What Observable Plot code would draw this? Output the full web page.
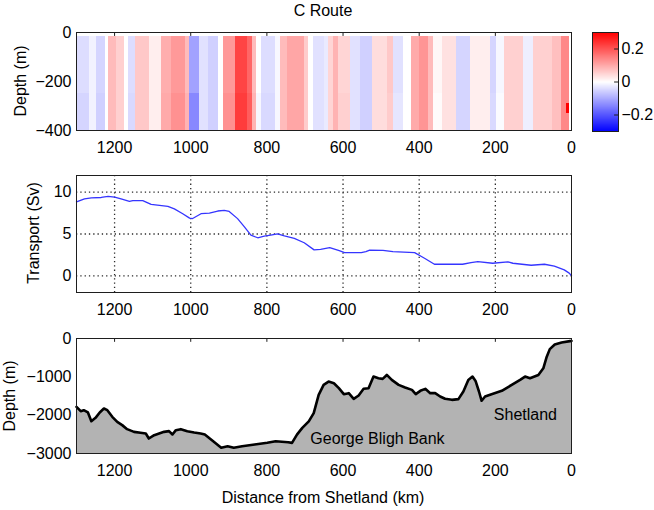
<!DOCTYPE html>
<html><head><meta charset="utf-8">
<script src="https://cdn.jsdelivr.net/npm/d3@7"></script>
<script src="https://cdn.jsdelivr.net/npm/@observablehq/plot@0.6"></script>
<style>
html,body{margin:0;padding:0;background:#fff;}
#wrap{position:relative;width:654px;height:510px;overflow:hidden;font-family:"Liberation Sans",Arial,sans-serif;color:#000;}
#wrap > *{position:absolute;}
.lbl{font-size:16px;line-height:20px;text-align:center;white-space:nowrap;}
</style></head><body>
<div id="wrap"></div>
<script>
// ---------- DATA ----------
const xTicks = [1200, 1000, 800, 600, 400, 200, 0];
const depthTicksTop = [0, -200, -400];
const transportTicks = [0, 5, 10];
const depthTicksBottom = [0, -1000, -2000, -3000];
const colorTicks = [-0.2, 0, 0.2];

// velocity section: column edges (km) and velocity in upper (-16..-250 m) and lower (-250..-400 m) layers
const segEdges = [1300,1265,1247,1225,1217,1195,1173,1164,1146,1107,1076,1050,1015,1004,978,954,927,914,883,850,839,826,813,778,765,745,700,690,677,650,637,625,612,580,554,523,484,467,440,419,400,375,362,340,301,266,214,197,175,127,101,49,27,5,0];
const velUpper = [-0.04,-0.015,-0.05,0.00,0.08,0.055,0.00,-0.04,0.065,0.02,0.095,0.12,0.08,-0.11,-0.035,-0.055,0.00,0.12,0.22,0.18,0.08,0.00,-0.04,-0.01,0.08,0.105,0.06,0.00,-0.035,-0.025,0.05,0.09,0.05,-0.035,-0.055,0.04,0.065,-0.035,0.00,0.10,0.125,0.08,0.01,0.035,-0.05,0.02,-0.05,-0.01,0.055,-0.02,0.055,0.075,0.14,0.00];
const velLower = [-0.05,-0.015,-0.055,0.00,0.08,0.055,0.00,-0.045,0.065,0.02,0.10,0.13,0.09,-0.14,-0.035,-0.055,0.00,0.13,0.23,0.19,0.09,-0.01,-0.045,-0.01,0.08,0.105,0.06,0.00,-0.035,-0.025,0.05,0.09,0.055,-0.035,-0.055,0.04,0.06,-0.03,0.00,0.10,0.125,0.08,0.005,0.035,-0.05,0.02,-0.045,-0.005,0.055,-0.02,0.055,0.075,0.14,0.00];
const sectionTop = -16, sectionMid = -250, sectionBottom = -400;
const anomKm = [14, 5];
const anomDepth = [-290, -330];
const anomVel = 0.3;

// transport
const transportKm = [1300,1279,1261,1235,1217,1200,1183,1161,1152,1126,1104,1082,1060,1043,1021,1003,995,973,951,929,912,899,877,859,842,824,807,790,772,754,728,702,676,659,635,610,596,552,540,530,495,469,412,386,360,286,264,246,207,167,154,106,71,45,19,6,0];
const transportSv = [8.85,9.2,9.33,9.37,9.49,9.4,9.2,8.9,9.0,9.0,8.54,8.42,8.3,8.0,7.43,6.9,6.85,7.43,7.5,7.75,7.83,7.7,6.84,5.85,4.86,4.55,4.74,4.86,5.02,4.78,4.47,3.95,3.1,3.16,3.36,3.0,2.77,2.77,2.9,3.08,3.05,2.9,2.77,2.1,1.38,1.38,1.58,1.7,1.5,1.66,1.5,1.26,1.38,1.15,0.71,0.32,0];

// bathymetry
const bathyKm = [1300,1289,1281,1270,1261,1250,1239,1228,1219,1206,1193,1180,1167,1149,1132,1118,1110,1096,1083,1070,1057,1048,1039,1026,1009,991,974,963,941,920,903,887,865,832,799,777,744,734,721,707,690,677,664,651,638,624,611,598,585,572,559,546,533,520,507,496,485,472,454,437,419,409,397,384,371,358,345,332,314,297,284,271,260,252,243,236,227,210,183,157,135,122,109,87,74,65,57,44,26,4,0];
const bathyDepth = [-1783,-1896,-1870,-1930,-2157,-2070,-1930,-1826,-1870,-2043,-2174,-2260,-2365,-2435,-2460,-2478,-2609,-2522,-2478,-2435,-2417,-2504,-2391,-2365,-2417,-2452,-2478,-2505,-2680,-2850,-2810,-2850,-2810,-2765,-2720,-2680,-2705,-2723,-2506,-2333,-2160,-1945,-1470,-1210,-1124,-1167,-1296,-1452,-1426,-1573,-1487,-1313,-1296,-994,-1037,-1054,-951,-1080,-1210,-1279,-1340,-1452,-1365,-1313,-1426,-1426,-1512,-1573,-1600,-1582,-1383,-1080,-994,-1106,-1383,-1625,-1512,-1452,-1365,-1210,-1080,-994,-1037,-951,-778,-475,-277,-156,-104,-69,-65];

const placeNames = ["George Bligh Bank", "Shetland"];
const placeKm = [686, 204];
const placeDepth = [-2609, -1983];

// ---------- BUILD ----------
const wrap = document.getElementById("wrap");
const fmt = d3.format("d");
const xDomain = [1300, 0];
const innerTicks = xTicks.filter(d => d > 0);
const FONT = "Liberation Sans, Arial, sans-serif";
const style = {fontFamily: FONT, fontSize: "16px", background: "transparent", color: "#000", overflow: "visible"};
const frameColor = "#1e1e1e";

function place(el, left, top) { el.style.left = left + "px"; el.style.top = top + "px"; wrap.appendChild(el); }
function label(text, cx, cy, rotate) {
  const d = document.createElement("div");
  d.className = "lbl"; d.textContent = text;
  d.style.width = "240px";
  if (rotate) d.style.transform = "rotate(-90deg)";
  place(d, cx - 120, cy - 10);
}

const colorScale = {type: "linear", domain: [-0.3, 0, 0.3], range: ["#0000ff", "#ffffff", "#ff0000"], interpolate: "rgb"};

// Panel 1: velocity section
const cells = [];
velUpper.forEach((v, i) => {
  cells.push({k1: segEdges[i], k2: segEdges[i + 1], d1: sectionTop, d2: sectionMid, v});
  cells.push({k1: segEdges[i], k2: segEdges[i + 1], d1: sectionMid, d2: sectionBottom, v: velLower[i]});
});
cells.push({k1: anomKm[0], k2: anomKm[1], d1: anomDepth[0], d2: anomDepth[1], v: anomVel});

const p1 = Plot.plot({
  width: 654, height: 160, marginTop: 32, marginBottom: 30, marginLeft: 76, marginRight: 83,
  style,
  x: {domain: xDomain},
  y: {domain: [-400, 0]},
  color: colorScale,
  marks: [
    Plot.ruleX(innerTicks, {x: d => d, y1: 0, y2: -16, stroke: frameColor}),
    Plot.rect(cells, {x1: "k1", x2: "k2", y1: "d1", y2: "d2", fill: "v", shapeRendering: "crispEdges"}),
    Plot.axisX(xTicks, {tickSize: 0, tickPadding: 11, tickFormat: fmt, label: null}),
    Plot.axisY(depthTicksTop, {tickSize: 0, tickPadding: 5, tickFormat: fmt, label: null}),
    Plot.frame({stroke: frameColor})
  ]
});
place(p1, 0, 0);

// Colorbar
const cb = Plot.plot({
  width: 62, height: 160, marginTop: 32, marginBottom: 29, marginLeft: 0, marginRight: 36,
  style,
  x: {domain: [0, 1], axis: null},
  y: {domain: [-0.3, 0.3]},
  color: colorScale,
  marks: [
    Plot.raster({x1: 0, x2: 1, y1: -0.3, y2: 0.3, width: 1, height: 200, fill: (x, y) => y, imageRendering: "auto"}),
    Plot.ruleY(colorTicks, {y: d => d, x1: 0.85, x2: 1, stroke: frameColor}),
    Plot.axisY(colorTicks, {anchor: "right", tickSize: 0, tickPadding: 3, tickFormat: d => d === 0 ? "0" : d3.format(".1f")(d), label: null}),
    Plot.frame({stroke: frameColor})
  ]
});
place(cb, 592, 0);

// Panel 2: transport
const transport = transportKm.map((k, i) => ({km: k, sv: transportSv[i]}));
const dotted = {stroke: "#2a2a2a", strokeDasharray: "1.3,3", strokeWidth: 1.3};
const p2 = Plot.plot({
  width: 654, height: 162, marginTop: 15, marginBottom: 30, marginLeft: 76, marginRight: 83,
  style,
  x: {domain: xDomain},
  y: {domain: [-2, 12]},
  marks: [
    Plot.ruleX(innerTicks, {x: d => d, ...dotted}),
    Plot.ruleY(transportTicks, {y: d => d, ...dotted}),
    Plot.line(transport, {x: "km", y: "sv", stroke: "#3535ff", strokeWidth: 1.3}),
    Plot.axisX(xTicks, {tickSize: 0, tickPadding: 11, tickFormat: fmt, label: null}),
    Plot.axisY(transportTicks, {tickSize: 0, tickPadding: 5, tickFormat: fmt, label: null}),
    Plot.frame({stroke: frameColor})
  ]
});
place(p2, 0, 160);

// Panel 3: bathymetry
const bathy = bathyKm.map((k, i) => ({km: k, depth: bathyDepth[i]}));
const places = placeNames.map((t, i) => ({t, km: placeKm[i], depth: placeDepth[i]}));
const p3 = Plot.plot({
  width: 654, height: 190, marginTop: 18, marginBottom: 57, marginLeft: 76, marginRight: 83,
  style,
  x: {domain: xDomain},
  y: {domain: [-3000, 0]},
  marks: [
    Plot.ruleX(innerTicks, {x: d => d, y1: 0, y2: -100, stroke: frameColor}),
    Plot.areaY(bathy, {x: "km", y1: -3000, y2: "depth", fill: "#b3b3b3"}),
    Plot.line(bathy, {x: "km", y: "depth", stroke: "#000", strokeWidth: 2.6, strokeLinejoin: "round"}),
    Plot.text(places, {x: "km", y: "depth", text: "t", textAnchor: "start", fontSize: 16, fill: "#000"}),
    Plot.axisX(xTicks, {tickSize: 0, tickPadding: 11, tickFormat: fmt, label: null}),
    Plot.axisY(depthTicksBottom, {tickSize: 0, tickPadding: 5, tickFormat: fmt, label: null}),
    Plot.frame({stroke: frameColor})
  ]
});
place(p3, 0, 320);

// Titles and axis labels
label("C Route", 323, 11, false);
label("Depth (m)", 21, 81, true);
label("Transport (Sv)", 34, 233, true);
label("Depth (m)", 10, 396, true);
label("Distance from Shetland (km)", 323, 498, false);
</script>
</body></html>
